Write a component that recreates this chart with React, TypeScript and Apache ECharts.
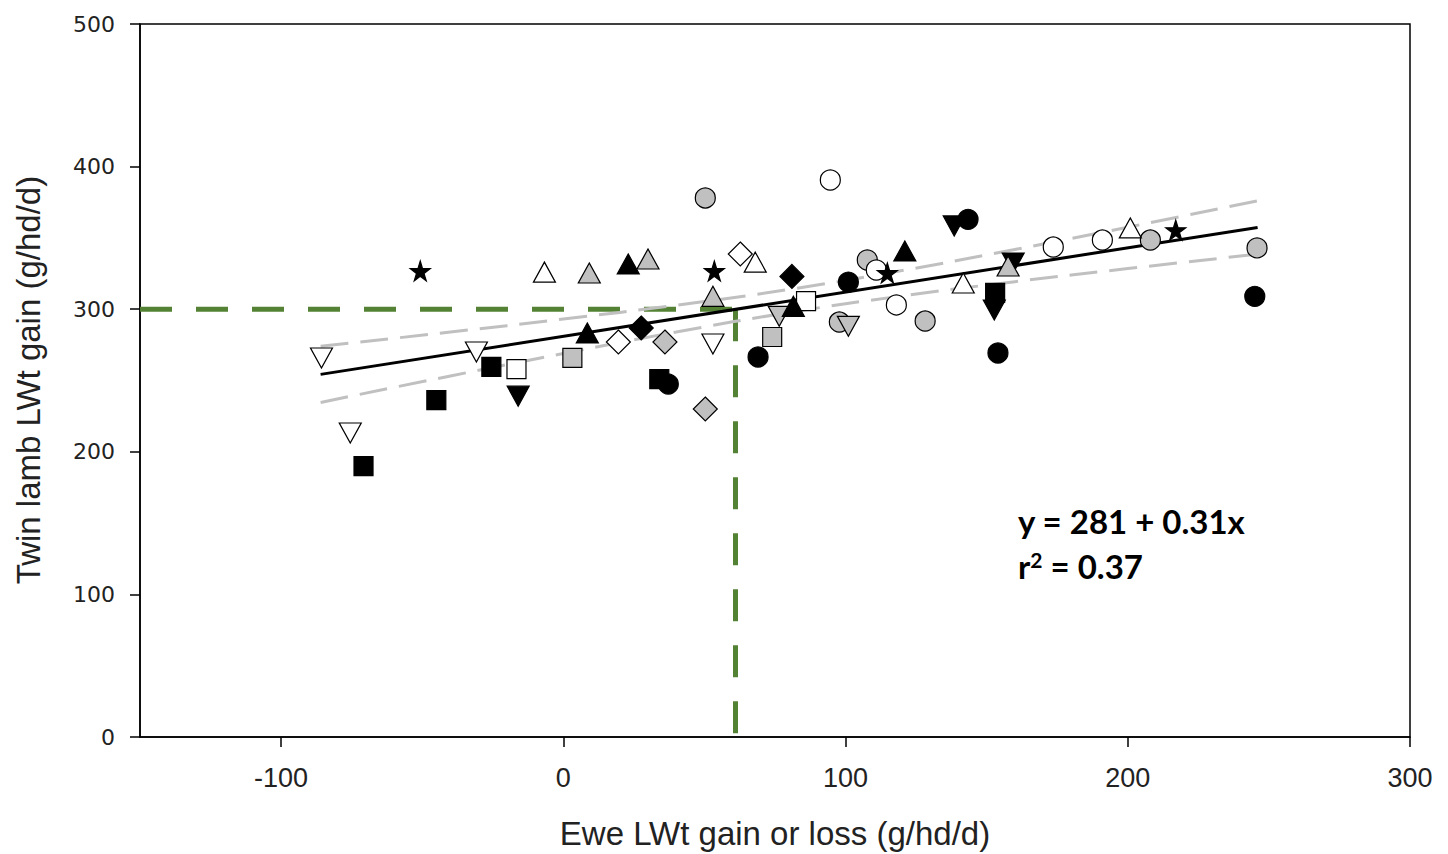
import React, { useEffect, useRef } from "react";
import * as echarts from "echarts";

const xTicks = [-100, 0, 100, 200, 300];

const blackCircle = [[37.2, 247.5], [69, 266.5], [101, 319], [143.4, 363], [154, 269.3], [245, 309]];
const greyCircle = [[50.3, 378], [97.8, 291], [107.7, 334.5], [128.2, 291.7], [208, 348.5], [245.8, 343]];
const whiteCircle = [[94.6, 390.6], [110.9, 327.5], [118, 303], [173.6, 343.6], [191, 348.5]];
const blackSquare = [[-70.8, 190], [-45, 236.3], [-25.5, 259.5], [34, 251], [153, 311.4]];
const greySquare = [[3.2, 265.8], [74, 280.5]];
const whiteSquare = [[-16.6, 258], [86, 305.7]];
const blackTriUp = [[8.5, 283.3], [23, 331.7], [81.5, 302], [121, 340.8]];
const greyTriUp = [[9.2, 325.4], [30, 335.2], [53, 309], [157.6, 330.3]];
const whiteTriUp = [[-6.7, 326], [68, 333], [141.7, 318.4], [200.9, 357]];
const blackTriDown = [[-16, 239], [138.5, 358.4], [152.7, 299.4], [159.4, 332.4]];
const greyTriDown = [[76.5, 295], [101, 288]];
const whiteTriDown = [[-85.7, 265.8], [-75.5, 213.2], [-30.8, 270], [53, 275.6]];
const blackDiamond = [[27.6, 286.8], [81, 323]];
const greyDiamond = [[36, 277], [50.3, 230]];
const whiteDiamond = [[19.5, 277], [62.7, 338.7]];
const blackStar = [[-50.7, 326.8], [53.5, 326.8], [114.8, 325.4], [217, 355.5]];

const fitLine = [[-86, 254.3], [246, 357.3]];
const bandX = [-86, -40, 0, 40, 80, 120, 160, 200, 246];
const bandUpper = [274.0, 284.0, 293.1, 302.8, 313.9, 327.1, 341.9, 357.5, 376.0];
const bandLower = [234.6, 253.2, 268.9, 284.0, 297.7, 309.3, 319.3, 328.5, 338.6];

const guideH = [[-150, 300], [61, 300]];
const guideV = [[61, 300], [61, 0]];

const STAR = "path://M50,0 L61,35 L98,35 L68,57 L79,91 L50,70 L21,91 L32,57 L2,35 L39,35 Z";
const GREY = "#c0c0c0";
const EQ_FONT = "Lato, Noto Sans, Arial";
const AX_FONT = "Liberation Sans, Arial";

function scatter(data: number[][], symbol: string, fill: string, size: any, rotate = 0) {
  return {
    type: "scatter",
    data,
    symbol,
    symbolSize: size,
    symbolRotate: rotate,
    itemStyle: { color: fill, borderColor: "#000", borderWidth: 1.2, opacity: 1 },
    z: 5,
  };
}

export default function App() {
  const ref = useRef<HTMLDivElement>(null);
  useEffect(() => {
    const chart = echarts.init(ref.current!, undefined, { renderer: "svg" });
    const upper = bandX.map((x, i) => [x, bandUpper[i]]);
    const lower = bandX.map((x, i) => [x, bandLower[i]]);
    chart.setOption({
      animation: false,
      backgroundColor: "#fff",
      grid: { left: 140, right: 38, top: 24, bottom: 117, show: true, borderColor: "#000", borderWidth: 1.5 },
      xAxis: {
        type: "value",
        min: -150,
        max: 300,
        splitLine: { show: false },
        axisLine: { lineStyle: { color: "#000", width: 1.5 }, onZero: false },
        axisTick: { show: true, length: 10, lineStyle: { color: "#000", width: 1.5 }, customValues: xTicks },
        axisLabel: {
          customValues: xTicks,
          margin: 27,
          fontSize: 27,
          color: "#222",
          fontFamily: AX_FONT,
        },
      },
      yAxis: {
        type: "value",
        min: 0,
        max: 500,
        interval: 100,
        splitLine: { show: false },
        axisLine: { lineStyle: { color: "#000", width: 1.5 }, onZero: false },
        axisTick: { show: true, length: 10, lineStyle: { color: "#000", width: 1.5 } },
        axisLabel: { margin: 25, fontSize: 22, color: "#222", fontFamily: "DejaVu Sans, Liberation Sans, Arial" },
      },
      series: [
        {
          type: "line", data: guideH, symbol: "none", z: 3,
          lineStyle: { color: "#548235", width: 5, type: [32, 24] },
        },
        {
          type: "line", data: guideV, symbol: "none", z: 3,
          lineStyle: { color: "#548235", width: 5, type: [32, 24] },
        },
        {
          type: "line", data: upper, symbol: "none", smooth: true, z: 4,
          lineStyle: { color: GREY, width: 3, type: [28, 12] },
        },
        {
          type: "line", data: lower, symbol: "none", smooth: true, z: 4,
          lineStyle: { color: GREY, width: 3, type: [28, 12] },
        },
        {
          type: "line", data: fitLine, symbol: "none", z: 4,
          lineStyle: { color: "#000", width: 3 },
        },
        scatter(greyCircle, "circle", GREY, 20),
        scatter(whiteCircle, "circle", "#fff", 20),
        scatter(blackCircle, "circle", "#000", 20),
        scatter(greySquare, "rect", GREY, 19),
        scatter(whiteSquare, "rect", "#fff", 19),
        scatter(blackSquare, "rect", "#000", 19),
        scatter(blackTriDown, "triangle", "#000", [22, 20], 180),
        scatter(greyTriDown, "triangle", GREY, [22, 20], 180),
        scatter(whiteTriDown, "triangle", "#fff", [22, 20], 180),
        scatter(blackTriUp, "triangle", "#000", [22, 20]),
        scatter(greyTriUp, "triangle", GREY, [22, 20]),
        scatter(whiteTriUp, "triangle", "#fff", [22, 20]),
        scatter(blackDiamond, "diamond", "#000", 24),
        scatter(greyDiamond, "diamond", GREY, 24),
        scatter(whiteDiamond, "diamond", "#fff", 24),
        scatter(blackStar, STAR, "#000", 20),
      ],
      graphic: [
        {
          type: "text",
          x: 28,
          y: 380,
          rotation: Math.PI / 2,
          style: {
            text: "Twin lamb LWt gain (g/hd/d)",
            fontSize: 33,
            fontFamily: AX_FONT,
            fill: "#222",
            align: "center",
            verticalAlign: "middle",
          },
        },
        {
          type: "text",
          x: 775,
          y: 833,
          style: {
            text: "Ewe LWt gain or loss (g/hd/d)",
            fontSize: 33,
            fontFamily: AX_FONT,
            fill: "#222",
            align: "center",
            verticalAlign: "middle",
          },
        },
        {
          type: "text",
          x: 1018,
          y: 521,
          style: {
            text: "y = 281 + 0.31x",
            fontSize: 33,
            fontWeight: "bold",
            fontFamily: EQ_FONT,
            fill: "#000",
            verticalAlign: "middle",
          },
        },
        {
          type: "text",
          x: 1018,
          y: 566,
          style: {
            text: "{b|r}{s|2}{b| = 0.37}",
            fontSize: 33,
            fontWeight: "bold",
            fontFamily: EQ_FONT,
            fill: "#000",
            verticalAlign: "middle",
            rich: {
              b: { fontSize: 33, fontWeight: "bold", fontFamily: EQ_FONT, fill: "#000" },
              s: { fontSize: 21, fontWeight: "bold", fontFamily: EQ_FONT, fill: "#000", verticalAlign: "top", padding: [0, 0, 14, 0] },
            },
          },
        },
      ],
    });
    return () => chart.dispose();
  }, []);
  return <div ref={ref} style={{ position: "fixed", left: 0, top: 0, width: 1448, height: 854 }} />;
}
